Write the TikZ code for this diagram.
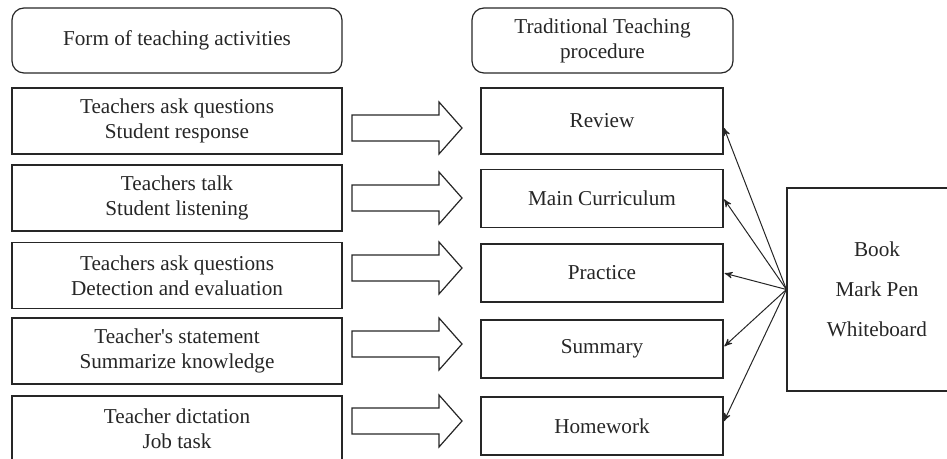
\documentclass[tikz,border=0pt]{standalone}
\usepackage{fontspec}
\setmainfont{Liberation Serif}
\usetikzlibrary{arrows,calc,positioning}
\tikzset{
flow/.style={x=0.5pt,y=-0.5pt,color=black!85,line width=0.6pt,
font=\fontsize{10.6}{12.5}\selectfont},
heading/.style={draw,rounded corners=6pt,align=center,inner sep=0pt,
minimum height=32.5pt},
activity/.style={draw,align=center,inner sep=0pt,minimum width=165pt,
minimum height=33pt},
stage/.style={draw,align=center,inner sep=0pt,minimum width=121pt,
minimum height=29pt},
tools/.style={draw,align=center,inner sep=0pt,minimum width=90pt,
minimum height=101.5pt,font=\fontsize{10.6}{20}\selectfont},
blockarrow/.style={draw,line join=miter},
uses/.style={->,>=stealth',line width=0.5pt,shorten >=0.5pt},
}

\begin{document}
\begin{tikzpicture}[flow]
\useasboundingbox (0,0) rectangle (947,459);

% column headings
\node[heading,minimum width=165pt] (form) at (177,40.5) {Form of teaching activities};
\node[heading,minimum width=130.5pt] (proc) at (602.5,40.5) {Traditional Teaching\\procedure};

% activities on the left
\node[activity] (a1) at (177,121) {Teachers ask questions\\Student response};
\node[activity] (a2) at (177,198) {Teachers talk\\Student listening};
\node[activity] (a3) at (177,275.5) {Teachers ask questions\\Detection and evaluation};
\node[activity] (a4) at (177,351) {Teacher\textquotesingle s statement\\Summarize knowledge};
\node[activity] (a5) at (177,429) {Teacher dictation\\Job task};

% procedure steps
\node[stage,minimum height=33pt] (review) at (602,121) {Review};
\node[stage] (main) at (602,198.5) {Main Curriculum};
\node[stage] (practice) at (602,273) {Practice};
\node[stage] (summary) at (602,349) {Summary};
\node[stage] (homework) at (602,426) {Homework};

% teaching tools
\node[tools] (tools) at (877,289.5) {Book\\Mark Pen\\Whiteboard};

% block arrows between the columns
\foreach \y in {128,198,268,344,421}
  \draw[blockarrow] (352,\y-13) -- (439,\y-13) -- (439,\y-26) -- (462,\y)
    -- (439,\y+26) -- (439,\y+13) -- (352,\y+13) -- cycle;

\draw[uses] (tools.west) -- ([yshift=-3pt]review.east);
\draw[uses] (tools.west) -- (main.east);
\draw[uses] (tools.west) -- (practice.east);
\draw[uses] (tools.west) -- ([yshift=1pt]summary.east);
\draw[uses] (tools.west) -- ([yshift=2pt]homework.east);
\end{tikzpicture}
\end{document}
